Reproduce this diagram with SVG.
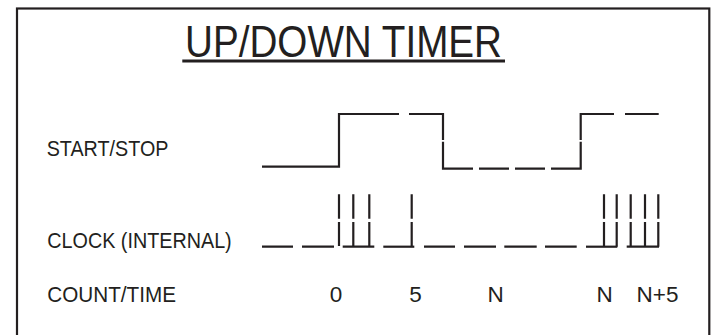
<svg xmlns="http://www.w3.org/2000/svg" width="712" height="335" viewBox="0 0 712 335">
<style>
.sig{fill:none;stroke:#231f20;stroke-width:2.2;stroke-linecap:butt;stroke-linejoin:miter}
.lbl{font-family:"Liberation Sans",Arial,sans-serif;font-size:22.5px;fill:#231f20}
.title{font-family:"Liberation Sans",Arial,sans-serif;font-size:43.5px;fill:#231f20}
</style>
<rect width="712" height="335" fill="#ffffff"/>
<rect id="frame" x="17" y="8.5" width="692.3" height="340" fill="none" stroke="#231f20" stroke-width="2.2"/>
<g id="title">
<text class="title" x="185" y="56.7" textLength="317" lengthAdjust="spacingAndGlyphs">UP/DOWN TIMER</text>
<line x1="182.3" y1="61" x2="505" y2="61" stroke="#231f20" stroke-width="3"/>
</g>
<g id="labels">
<text class="lbl" x="46.7" y="156" textLength="121.7" lengthAdjust="spacingAndGlyphs">START/STOP</text>
<text class="lbl" x="47.3" y="248.3" textLength="184.4" lengthAdjust="spacingAndGlyphs">CLOCK (INTERNAL)</text>
<text class="lbl" x="47.3" y="302.3" textLength="128.7" lengthAdjust="spacingAndGlyphs">COUNT/TIME</text>
</g>
<g id="count-values" class="lbl" text-anchor="middle">
<text x="336" y="302.3">0</text>
<text x="415.5" y="302.3">5</text>
<text x="495.5" y="302.3">N</text>
<text x="604.7" y="302.3">N</text>
<text x="657.5" y="302.3">N+5</text>
</g>
<g id="start-stop-signal" class="sig">
<path d="M262 166.7 H339 V114 H399"/>
<path d="M409 114 H443 V140"/>
<path d="M443 141.7 V168.7 H473"/>
<path d="M479 168.7 H509 M515 168.7 H545"/>
<path d="M551 168.7 H580.7 V141.7"/>
<path d="M580.7 140 V114 H614"/>
<path d="M625 114 H658.7"/>
</g>
<g id="clock-signal" class="sig">
<path d="M262 246.7 H293 M302 246.7 H334"/>
<path d="M339 194.3 V218.7 M339 222 V246"/>
<path d="M342.7 246.7 H374.3"/>
<path d="M353.3 194.3 V218.7 M353.3 222 V246.7"/>
<path d="M369.3 194.3 V218.7 M369.3 222 V246.7"/>
<path d="M383.3 246.7 H414.3"/>
<path d="M411.7 194.3 V218.7 M411.7 222 V246.7"/>
<path d="M424 246.7 H455 M464 246.7 H496 M504.3 246.7 H536.7 M545 246.7 H576.7"/>
<path d="M586 246.7 H617.3"/>
<path d="M604 194.3 V218.7 M604 222 V246.7"/>
<path d="M616.7 194.3 V218.7 M616.7 222 V246.7"/>
<path d="M626.7 246.7 H659"/>
<path d="M630.7 194.3 V218.7 M630.7 222 V246.7"/>
<path d="M645 194.3 V218.7 M645 222 V246.7"/>
<path d="M658.3 194.3 V218.7 M658.3 222 V246.7"/>
</g>
</svg>
